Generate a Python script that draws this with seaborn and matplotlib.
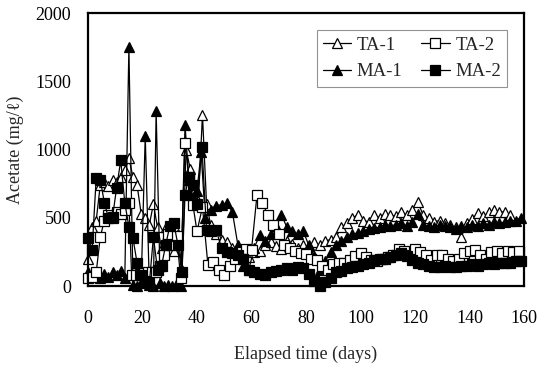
import numpy as np
import pandas as pd
import matplotlib
matplotlib.use("Agg")
import matplotlib.pyplot as plt
import seaborn as sns

# ---- data ----
ta1_days = [0, 1.5, 3, 4.5, 6, 7.5, 9, 10.5, 12, 13.5, 15, 16.5, 18, 19.5, 21, 22.5, 24, 25.5, 27, 28.5,
            30, 31.5, 33, 34.5, 36, 37.5, 39, 40.5, 42, 43.5, 45, 47, 49, 51, 53, 55, 57, 59, 61, 63,
            65, 67, 69, 71, 73, 75, 77, 79, 81, 83, 85, 87, 89, 91, 93, 95, 97, 99, 101, 103,
            105, 107, 109, 111, 113, 115, 117, 119, 121, 123, 125, 127, 129, 131, 133, 135, 137, 139, 141, 143,
            145, 147, 149, 151, 153, 155]
ta1_vals = [200, 430, 480, 740, 760, 730, 780, 760, 800, 850, 935, 800, 740, 530, 500, 450, 600, 430, 280, 430,
            320, 260, 380, 120, 1000, 860, 700, 620, 1255, 600, 450, 380, 340, 320, 280, 250, 230, 210, 250, 260,
            300, 320, 290, 270, 330, 310, 280, 300, 290, 320, 300, 330, 340, 360, 430, 460, 500, 520, 480, 470,
            520, 500, 530, 520, 510, 540, 520, 560, 615, 520, 500, 470, 480, 460, 450, 430, 360, 460, 490, 535,
            510, 540, 560, 540, 545, 520]

ta2_days = [0, 1.5, 3, 4.5, 6, 7.5, 9, 10.5, 12, 13.5, 15, 16, 17.5, 19, 20.5, 22, 23.5, 25, 26.5, 28,
            29.5, 31, 32.5, 34, 35.6, 37, 38.5, 40, 42, 44, 46, 48, 50, 52, 54, 56, 58, 60, 62, 64,
            66, 68, 70, 72, 74, 76, 78, 80, 82, 84, 86, 88, 90, 92, 94, 96, 98, 100, 102, 104,
            106, 108, 110, 112, 114, 116, 118, 120, 122, 124, 126, 128, 130, 132, 134, 136, 138, 140, 142, 144,
            146, 148, 150, 152, 154, 156, 158]
ta2_vals = [60, 70, 100, 360, 480, 520, 500, 540, 530, 560, 610, 80, 80, 90, 95, 100, 105, 100, 150, 230,
            380, 300, 370, 60, 1045, 800, 595, 400, 580, 155, 175, 120, 80, 150, 200, 250, 270, 265, 665, 610,
            520, 445, 380, 300, 280, 260, 240, 235, 200, 190, 150, 120, 160, 170, 170, 190, 220, 240, 210, 190,
            180, 200, 210, 230, 270, 260, 230, 270, 250, 230, 190, 230, 225, 200, 180, 200, 240, 260, 265, 230,
            200, 250, 260, 240, 255, 250, 260]

ma1_days = [0, 1.5, 3, 4.5, 6, 7.5, 9, 10.5, 12, 13.5, 15, 16.5, 18, 19.5, 21, 22.5, 24, 25, 26.5, 28,
            29.5, 31, 32.5, 34, 35.6, 37, 38.5, 40, 41.5, 43, 45, 47, 49, 51, 53, 55, 57, 59, 61, 63,
            65, 67, 69, 71, 73, 75, 77, 79, 81, 83, 85, 87, 89, 91, 93, 95, 97, 99, 101, 103,
            105, 107, 109, 111, 113, 115, 117, 119, 121, 123, 125, 127, 129, 131, 133, 135, 137, 139, 141, 143,
            145, 147, 149, 151, 153, 155, 157, 159]
ma1_vals = [100, 70, 80, 60, 90, 70, 100, 80, 110, 60, 1750, 10, 0, 20, 1100, 10, 0, 1280, 20, 0,
            10, 0, 20, 0, 1180, 780, 650, 700, 980, 500, 560, 590, 595, 610, 540, 300, 150, 120, 280, 375,
            330, 380, 440, 520, 430, 400, 380, 400, 300, 220, 120, 180, 250, 300, 330, 360, 380, 390, 400, 420,
            425, 430, 450, 440, 450, 460, 440, 470, 530, 450, 440, 430, 450, 440, 430, 420, 440, 430, 450, 440,
            460, 450, 470, 460, 470, 480, 480, 500]

ma2_days = [0, 1.5, 3, 4.5, 6, 7.5, 9, 10.5, 12, 13.5, 15, 16.5, 18, 19.5, 21, 22.5, 24, 25.5, 27, 28.5,
            30, 31.5, 33, 34.5, 35.6, 37, 38.5, 40, 41.8, 43.5, 45, 47, 49, 51, 53, 55, 57, 59, 61, 63,
            65, 67, 69, 71, 73, 75, 77, 79, 81, 83, 85, 87, 89, 91, 93, 95, 97, 99, 101, 103,
            105, 107, 109, 111, 113, 115, 117, 119, 121, 123, 125, 127, 129, 131, 133, 135, 137, 139, 141, 143,
            145, 147, 149, 151, 153, 155, 157, 159]
ma2_vals = [350, 265, 790, 780, 610, 500, 505, 720, 920, 610, 435, 350, 170, 80, 40, 20, 360, 120, 150, 300,
            440, 460, 300, 100, 670, 800, 740, 600, 1020, 410, 400, 410, 280, 250, 240, 230, 200, 120, 100, 90,
            80, 100, 110, 120, 130, 120, 140, 130, 90, 40, 0, 30, 60, 100, 110, 130, 140, 150, 160, 170,
            190, 200, 200, 210, 230, 240, 220, 190, 170, 160, 150, 140, 140, 150, 140, 140, 150, 150, 160, 150,
            160, 170, 160, 170, 170, 170, 180, 180]

x_ticks = [0, 20, 40, 60, 80, 100, 120, 140, 160]
y_ticks = [0, 500, 1000, 1500, 2000]

# ---- plotting ----
sns.set_theme(style="white")
plt.rcParams['font.family'] = ['Liberation Serif', 'DejaVu Serif']

fig = plt.figure(figsize=(5.38, 3.72), dpi=100)
ax = fig.add_axes([0.1636, 0.231, 0.974 - 0.1636, 0.965 - 0.231])

common = dict(color='black', linewidth=0.9, markersize=6.8, markeredgewidth=0.9,
              markeredgecolor='black', estimator=None, sort=False, ax=ax, clip_on=False)

sns.lineplot(x=ta1_days, y=ta1_vals, marker='^', markerfacecolor='white', label='TA-1', **common)
sns.lineplot(x=ma1_days, y=ma1_vals, marker='^', markerfacecolor='black', label='MA-1', **common)
sns.lineplot(x=ta2_days, y=ta2_vals, marker='s', markerfacecolor='white', label='TA-2', **common)
sns.lineplot(x=ma2_days, y=ma2_vals, marker='s', markerfacecolor='black', label='MA-2', **common)

ax.set_xlim(0, 160)
ax.set_ylim(0, 2000)
ax.set_xticks(x_ticks)
ax.set_yticks(y_ticks)
ax.tick_params(direction='in', length=3, width=0.8, labelsize=13, colors='black')
ax.tick_params(axis='x', pad=17)
ax.tick_params(axis='y', pad=12)
for s in ax.spines.values():
    s.set_linewidth(1.6)
    s.set_color('black')
    s.set_zorder(5)

ax.set_xlabel('Elapsed time (days)', fontsize=13, labelpad=14)
ax.set_ylabel('Acetate (mg/ℓ)', fontsize=13, labelpad=8)

leg = ax.legend(ncol=2, loc='upper right', bbox_to_anchor=(0.962, 0.938), borderaxespad=0,
                fontsize=13.5, frameon=True, fancybox=False, edgecolor='#777777', handlelength=1.5,
                handletextpad=0.3, columnspacing=1.0, labelspacing=0.5, borderpad=0.35)
leg.get_frame().set_linewidth(0.8)

fig.savefig('out.png', dpi=100)
